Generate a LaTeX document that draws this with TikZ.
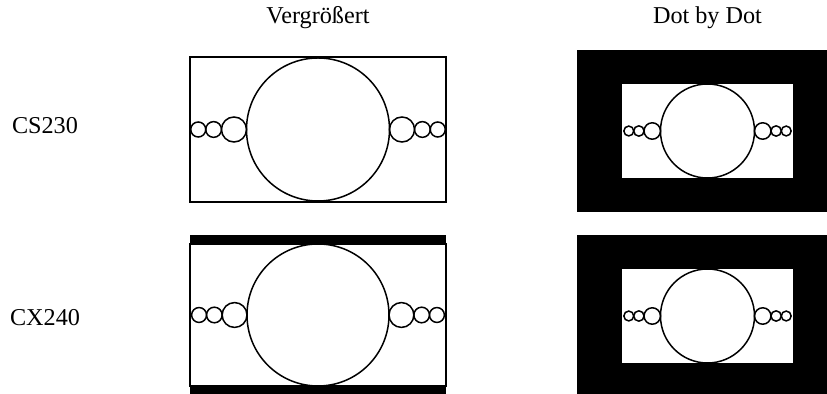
\documentclass[tikz,border=0pt]{standalone}
\usepackage{fontspec}
\setmainfont{Liberation Serif}
\usetikzlibrary{positioning}
\usepackage{xcolor}
\definecolor{screenblack}{RGB}{0, 0, 0}

% big circle with the row of small circles, unit radius scaled by #3
\newcommand{\bubblescreen}[3]{%
  \begin{scope}[shift={(#1,#2)}, scale=#3, line width=0.75pt]
    \draw (0,0) circle[radius=1];
    \draw (-1.175,0) circle[radius=0.175];
    \draw (-1.46,0) circle[radius=0.11];
    \draw (-1.675,0) circle[radius=0.105];
    \draw (1.175,0) circle[radius=0.175];
    \draw (1.46,0) circle[radius=0.11];
    \draw (1.675,0) circle[radius=0.105];
  \end{scope}}

\begin{document}
\begin{tikzpicture}[x=0.5pt, y=-0.5pt, font=\fontsize{12.1}{14}\selectfont]
        \clip (0,0) rectangle (827,394);
        \fill[white] (0,0) rectangle (827,394);

        % column and row labels
        \node (vg) at (318,18) {Vergrößert};
        \node (dd) at (707.5,18) {Dot by Dot};
        \node (cs) at (45,126) {CS230};
        \node (cx) at (45,318) {CX240};

        % CS230, Vergroessert
        \draw[line width=0.75pt] (190,57) rectangle (446,202);
        \bubblescreen{318}{129.5}{71.5}

        % CX240, Vergroessert
        \fill[screenblack] (190,235) rectangle (446,396);
        \draw[line width=0.75pt, fill=white] (190,244) rectangle (446,386);
        \bubblescreen{318}{315}{71}

        % CS230, Dot by Dot
        \fill[screenblack] (577,50) rectangle (838,212);
        \fill[white] (622,84) rectangle (793,178);
        \bubblescreen{707.5}{131}{47}

        % CX240, Dot by Dot
        \fill[screenblack] (577,235) rectangle (838,400);
        \fill[white] (622,269) rectangle (793,363);
        \bubblescreen{707.5}{316}{47}
      \end{tikzpicture}
\end{document}
